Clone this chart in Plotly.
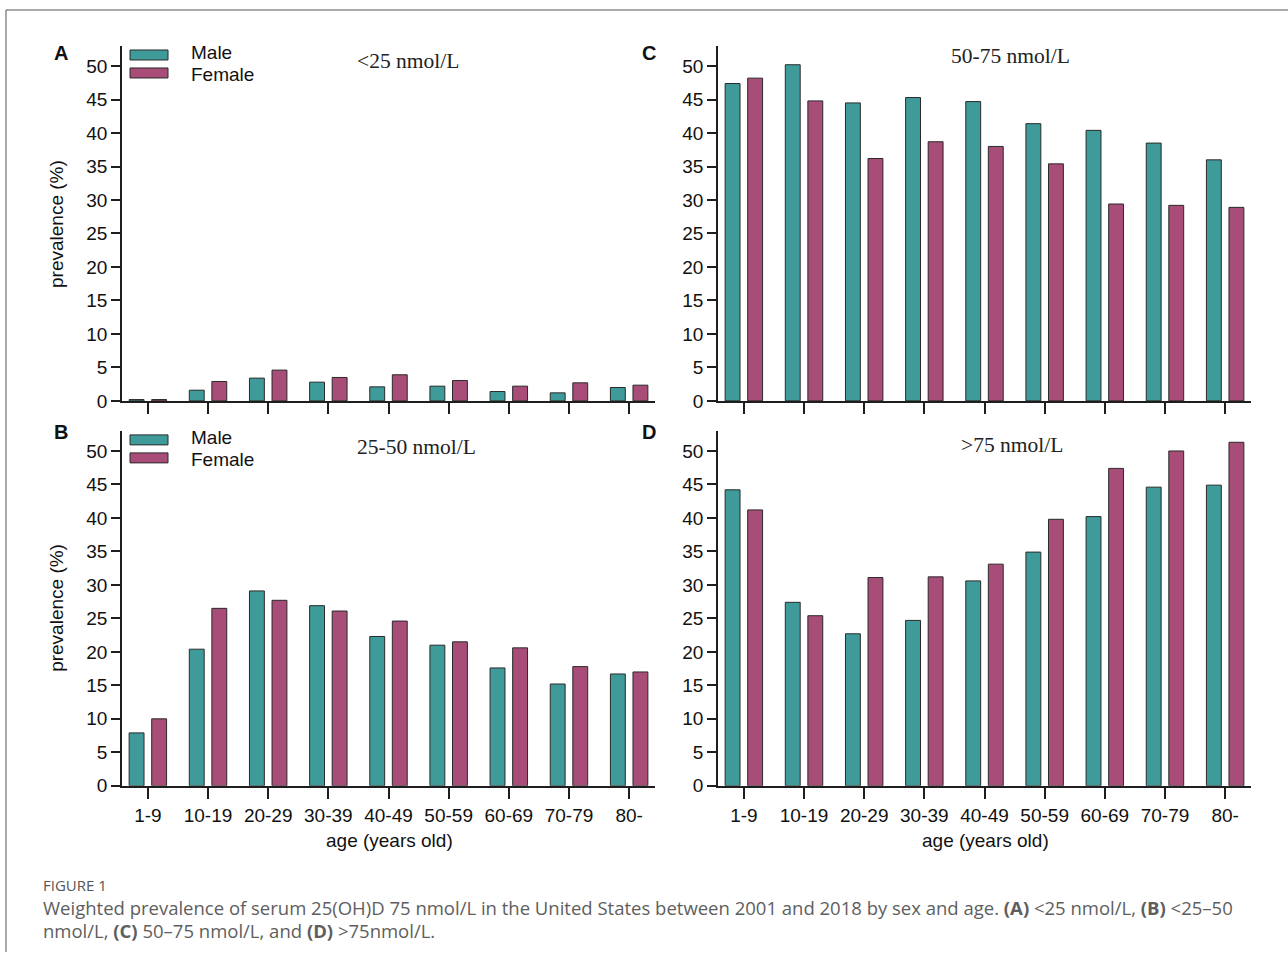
import plotly.graph_objects as go

# ---- data -------------------------------------------------------------
age_groups = ["1-9", "10-19", "20-29", "30-39", "40-49", "50-59", "60-69", "70-79", "80-"]

# prevalence (%) by vitamin D category, sex and age group
lt25_male = [0.2, 1.6, 3.4, 2.8, 2.1, 2.2, 1.4, 1.2, 2.0]
lt25_female = [0.2, 2.9, 4.6, 3.5, 3.9, 3.05, 2.2, 2.7, 2.35]

r25_50_male = [7.9, 20.4, 29.1, 26.9, 22.3, 21.0, 17.6, 15.2, 16.7]
r25_50_female = [10.0, 26.5, 27.7, 26.1, 24.6, 21.5, 20.6, 17.8, 17.0]

r50_75_male = [47.4, 50.2, 44.5, 45.3, 44.7, 41.4, 40.4, 38.5, 36.0]
r50_75_female = [48.2, 44.8, 36.2, 38.7, 38.0, 35.4, 29.4, 29.2, 28.9]

gt75_male = [44.2, 27.4, 22.7, 24.7, 30.6, 34.9, 40.2, 44.6, 44.9]
gt75_female = [41.2, 25.4, 31.1, 31.2, 33.1, 39.8, 47.4, 50.0, 51.3]

y_ticks = [0, 5, 10, 15, 20, 25, 30, 35, 40, 45, 50]
series_names = ["Male", "Female"]
panel_letters = ["A", "B", "C", "D"]
panel_titles = ["&lt;25 nmol/L", "25-50 nmol/L", "50-75 nmol/L", "&gt;75 nmol/L"]

caption_label = "FIGURE 1"
caption_line1 = ("Weighted prevalence of serum 25(OH)D 75 nmol/L in the United States between 2001 "
                 "and 2018 by sex and age. <b>(A)</b> &lt;25 nmol/L, <b>(B)</b> &lt;25\u201350")
caption_line2 = "nmol/L, <b>(C)</b> 50\u201375 nmol/L, and <b>(D)</b> &gt;75nmol/L."

# ---- styling ----------------------------------------------------------
W, H = 1288, 963
SY = 1.0113  # vertical layout stretch of the page grid
TEAL = "#3f9a9a"
MAGENTA = "#a84c78"
EDGE = "#2a2a2a"
AXIS = "#1e1e1e"
SANS = "Arial, Liberation Sans, sans-serif"
SERIF = "Times New Roman, Liberation Serif, serif"
CAPTION_FONT = "Open Sans, sans-serif"


def px_x(v):
    return v / W


def px_y(v):
    return 1 - v * SY / H


# panel frames in pixels: (left, right, top, bottom)
panels = [
    (122, 655, 46, 401),   # A
    (122, 655, 431, 786),  # B
    (718, 1251, 46, 401),  # C
    (718, 1251, 431, 786), # D
]
panel_data = [
    (lt25_male, lt25_female),
    (r25_50_male, r25_50_female),
    (r50_75_male, r50_75_female),
    (gt75_male, gt75_female),
]

fig = go.Figure()

for i, ((male, female), (l, r, t, b)) in enumerate(zip(panel_data, panels)):
    k = "" if i == 0 else str(i + 1)
    for name, vals, col in ((series_names[0], male, TEAL), (series_names[1], female, MAGENTA)):
        fig.add_trace(go.Bar(
            x=age_groups, y=vals, name=name,
            marker=dict(color=col, line=dict(color=EDGE, width=1)),
            xaxis="x" + k, yaxis="y" + k, showlegend=False,
        ))
    bottom_row = i in (1, 3)
    fig.update_layout(**{
        "xaxis" + k: dict(
            domain=[px_x(l), px_x(r)], anchor="y" + k,
            type="category", range=[-0.43, 8.43],
            showline=True, linecolor=AXIS, linewidth=1.5,
            ticks="outside", ticklen=11, tickwidth=1.5, tickcolor=AXIS,
            showticklabels=bottom_row, showgrid=False, zeroline=False,
            tickfont=dict(family=SANS, size=19, color="#111"),
            ticklabelstandoff=1,
        ),
        "yaxis" + k: dict(
            domain=[px_y(b), px_y(t)], anchor="x" + k,
            range=[0, 53], tickvals=y_ticks,
            showline=True, linecolor=AXIS, linewidth=1.5,
            ticks="outside", ticklen=9, tickwidth=1.5, tickcolor=AXIS,
            showgrid=False, zeroline=False,
            tickfont=dict(family=SANS, size=19, color="#111"),
        ),
    })

annotations = []
shapes = []

# panel letters and subtitles
letter_pos = [(61, 53), (61, 432), (649, 53), (649, 432)]
title_pos = [(408, 61), (416, 447), (1010, 56), (1012, 445)]
for letter, (lx, ly), ttl, (tx, ty) in zip(panel_letters, letter_pos, panel_titles, title_pos):
    annotations.append(dict(x=px_x(lx), y=px_y(ly), xref="paper", yref="paper", text="<b>%s</b>" % letter,
                            showarrow=False, xanchor="center", yanchor="middle",
                            font=dict(family=SANS, size=20, color="#111")))
    annotations.append(dict(x=px_x(tx), y=px_y(ty), xref="paper", yref="paper", text=ttl,
                            showarrow=False, xanchor="center", yanchor="middle",
                            font=dict(family=SERIF, size=21.5, color="#222")))

# legends inside panels A and B
for top in (55, 440):
    for j, (name, col) in enumerate(zip(series_names, (TEAL, MAGENTA))):
        cy = top + 18 * j
        shapes.append(dict(type="rect", xref="paper", yref="paper",
                           x0=px_x(130), x1=px_x(168), y0=px_y(cy + 5), y1=px_y(cy - 5),
                           fillcolor=col, line=dict(color=EDGE, width=1)))
        ty = top - 2 + 22 * j
        annotations.append(dict(x=px_x(189), y=px_y(ty), xref="paper", yref="paper", text=name,
                                showarrow=False, xanchor="left", yanchor="middle",
                                font=dict(family=SANS, size=19, color="#111")))

# axis titles
for cy in (224, 608):
    annotations.append(dict(x=px_x(57), y=px_y(cy), xref="paper", yref="paper", text="prevalence (%)",
                            showarrow=False, textangle=-90, xanchor="center", yanchor="middle",
                            font=dict(family=SANS, size=19, color="#111")))
for cx in (389, 985):
    annotations.append(dict(x=px_x(cx), y=px_y(841), xref="paper", yref="paper", text="age (years old)",
                            showarrow=False, xanchor="center", yanchor="middle",
                            font=dict(family=SANS, size=19, color="#111")))

# caption
annotations.append(dict(x=px_x(41), y=px_y(885), xref="paper", yref="paper", text=caption_label,
                        showarrow=False, xanchor="left", yanchor="middle",
                        font=dict(family=CAPTION_FONT, size=15, color="#555")))
for txt, cy in ((caption_line1, 908), (caption_line2, 931)):
    annotations.append(dict(x=px_x(41), y=px_y(cy), xref="paper", yref="paper", text=txt,
                            showarrow=False, xanchor="left", yanchor="middle",
                            font=dict(family=CAPTION_FONT, size=18.5, color="#5e5e5e")))

# outer frame (top and left edges)
shapes.append(dict(type="line", xref="paper", yref="paper", x0=px_x(6), x1=1, y0=px_y(10), y1=px_y(10),
                   line=dict(color="#555", width=1)))
shapes.append(dict(type="line", xref="paper", yref="paper", x0=px_x(6), x1=px_x(6), y0=px_y(10), y1=0,
                   line=dict(color="#555", width=1)))

fig.update_layout(
    width=W, height=H,
    margin=dict(l=0, r=0, t=0, b=0),
    paper_bgcolor="white", plot_bgcolor="white",
    barmode="group", bargap=0.25, bargroupgap=0.34,
    annotations=annotations, shapes=shapes,
    showlegend=False,
)

fig.write_html("out.html")
